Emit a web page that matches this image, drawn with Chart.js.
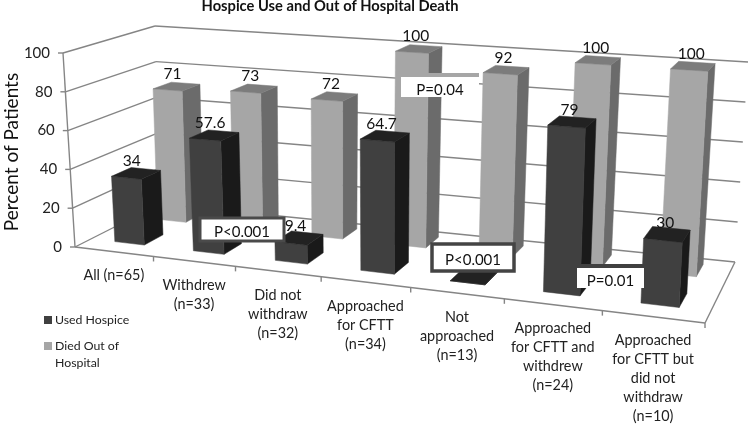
<!DOCTYPE html>
<html>
<head>
<meta charset="utf-8">
<style>html,body{margin:0;padding:0;background:#fff}canvas{display:block}</style>
<script src="https://cdn.jsdelivr.net/npm/chart.js@4/dist/chart.umd.js"></script>
</head>
<body>
<canvas id="c" width="750" height="425" style="width:750px;height:425px"></canvas>
<script>
const CATEGORIES = [
  ['All (n=65)'],
  ['Withdrew', '(n=33)'],
  ['Did not', 'withdraw', '(n=32)'],
  ['Approached', 'for CFTT', '(n=34)'],
  ['Not', 'approached', '(n=13)'],
  ['Approached', 'for CFTT and', 'withdrew', '(n=24)'],
  ['Approached', 'for CFTT but', 'did not', 'withdraw', '(n=10)'],
];
const USED_HOSPICE = [34, 57.6, 9.4, 64.7, 0, 79, 30];
const DIED_OUT = [71, 73, 72, 100, 92, 100, 100];
const Y_TICKS = [0, 20, 40, 60, 80, 100];
const NOTES = ['P<0.001', 'P=0.04', 'P<0.001', 'P=0.01'];

const FONT = 'Lato, sans-serif';

// corners of the box in screen space: front-left, front-right, back-right, back-left
const FLOOR = [[75, 247], [705, 323], [735, 262], [160, 204]];
const CEIL = [[63, 53], [716, 100.5], [748, 62], [155, 26]];

function homography(q) {
  const [[x0, y0], [x1, y1], [x2, y2], [x3, y3]] = q;
  const sx = x0 - x1 + x2 - x3, sy = y0 - y1 + y2 - y3;
  const dx1 = x1 - x2, dx2 = x3 - x2, dy1 = y1 - y2, dy2 = y3 - y2;
  const den = dx1 * dy2 - dx2 * dy1;
  const g = (sx * dy2 - dx2 * sy) / den, h = (dx1 * sy - sx * dy1) / den;
  return (u, w) => {
    const d = g * u + h * w + 1;
    return [
      ((x1 - x0 + g * x1) * u + (x3 - x0 + h * x3) * w + x0) / d,
      ((y1 - y0 + g * y1) * u + (y3 - y0 + h * y3) * w + y0) / d,
    ];
  };
}
const floorH = homography(FLOOR), ceilH = homography(CEIL);

// u along the categories, v up the value axis, w into the depth (all 0..1)
function project(u, v, w) {
  const uu = u + 0.06 * u * (1 - u);      // ticks are a bit less foreshortened than the corners say
  const a = floorH(uu, w), b = ceilH(uu, w);
  return [a[0] + (b[0] - a[0]) * v, a[1] + (b[1] - a[1]) * v];
}

function poly(ctx, pts, fill) {
  ctx.beginPath();
  pts.forEach((p, i) => (i ? ctx.lineTo(p[0], p[1]) : ctx.moveTo(p[0], p[1])));
  ctx.closePath();
  ctx.fillStyle = fill;
  ctx.fill();
  ctx.strokeStyle = fill;
  ctx.lineWidth = 0.5;
  ctx.stroke();
}
function line(ctx, a, b) {
  ctx.beginPath();
  ctx.moveTo(a[0], a[1]);
  ctx.lineTo(b[0], b[1]);
  ctx.stroke();
}
const toV = (chart, val) => {
  const { chartArea: A, scales } = chart;
  return (A.bottom - scales.y.getPixelForValue(val)) / A.height;
};
const toU = (chart, px) => (px - chart.chartArea.left) / chart.chartArea.width;

function noteBox(ctx, text, x, y, w, h, border, lw, topOnly) {
  ctx.fillStyle = '#fff';
  ctx.fillRect(x, y, w, h);
  if (topOnly) {
    ctx.fillStyle = border;
    ctx.fillRect(x, y - lw, w, lw);
  } else {
    ctx.strokeStyle = border;
    ctx.lineWidth = lw;
    ctx.strokeRect(x, y, w, h);
  }
  ctx.fillStyle = '#111';
  ctx.font = '15px ' + FONT;
  ctx.textAlign = 'center';
  ctx.textBaseline = 'middle';
  ctx.fillText(text, x + w / 2, y + h / 2 + 3);
}

const box3d = {
  id: 'box3d',
  beforeDatasetsDraw(chart) {
    const { ctx } = chart;
    ctx.save();
    ctx.strokeStyle = '#858585';
    ctx.lineWidth = 1.4;
    // walls
    Y_TICKS.forEach((t) => {
      const v = toV(chart, t);
      line(ctx, project(0, v, 0), project(0, v, 1));
      line(ctx, project(0, v, 1), project(1, v, 1));
      const p = project(0, v, 0);
      line(ctx, p, [p[0] - 5, p[1]]);
    });
    // floor and axes
    line(ctx, project(0, 0, 0), project(0, 1, 0));
    line(ctx, project(0, 0, 0), project(1, 0, 0));
    line(ctx, project(1, 0, 0), project(1, 0, 1));
    for (let i = 1; i <= CATEGORIES.length; i++) {
      const p = project(i / CATEGORIES.length, 0, 0);
      line(ctx, p, [p[0], p[1] + 5]);
    }
    // y tick labels
    ctx.fillStyle = '#222';
    ctx.font = '15px ' + FONT;
    ctx.textAlign = 'right';
    ctx.textBaseline = 'middle';
    Y_TICKS.forEach((t) => {
      const p = project(0, toV(chart, t), 0);
      ctx.fillText(String(t), p[0] - 13, p[1]);
    });
    // category labels
    ctx.textAlign = 'center';
    ctx.font = '14.4px ' + FONT;
    CATEGORIES.forEach((lines, i) => {
      const p = project(toU(chart, chart.scales.x.getPixelForValue(i)), 0, 0);
      lines.forEach((s, k) => ctx.fillText(s, p[0], p[1] + 24 + k * 19));
    });
    ctx.restore();
  },
  // bars come off the scales flat and get pushed through project() here
  beforeDatasetDraw(chart, args) {
    const { ctx } = chart;
    const ds = chart.data.datasets[args.index];
    const w1 = ds.depth - 0.11, w2 = ds.depth + 0.11;
    ctx.save();
    args.meta.data.forEach((el) => {
      const { x, y, width } = el.getProps(['x', 'y', 'width'], true);
      const u1 = toU(chart, x - width / 2), u2 = toU(chart, x + width / 2);
      const v = toV(chart, chart.scales.y.getValueForPixel(y));
      poly(ctx, [project(u2, 0, w1), project(u2, 0, w2), project(u2, v, w2), project(u2, v, w1)], ds.sideColor);
      poly(ctx, [project(u1, 0, w1), project(u2, 0, w1), project(u2, v, w1), project(u1, v, w1)], ds.backgroundColor);
      poly(ctx, [project(u1, v, w1), project(u2, v, w1), project(u2, v, w2), project(u1, v, w2)], ds.topColor);
    });
    ctx.restore();
    return false;
  },
  afterDatasetsDraw(chart) {
    const { ctx } = chart;
    ctx.save();
    // value labels
    ctx.fillStyle = '#111';
    ctx.font = '15.5px ' + FONT;
    ctx.textAlign = 'center';
    ctx.textBaseline = 'middle';
    chart.data.datasets.forEach((ds, d) => {
      chart.getDatasetMeta(d).data.forEach((el, i) => {
        const u = toU(chart, el.x);
        const p = project(u, toV(chart, ds.data[i]), ds.depth - 0.05);
        ctx.fillText(String(ds.data[i]), p[0], p[1] - 14);
      });
    });
    // p value boxes
    noteBox(ctx, NOTES[0], 200, 218, 84, 23, '#4a4a4a', 3);
    noteBox(ctx, NOTES[1], 401, 77, 78, 20, '#a6a6a6', 4, true);
    noteBox(ctx, NOTES[2], 432, 244, 82, 27, '#444', 3.5);
    noteBox(ctx, NOTES[3], 577, 268, 67, 20, '#404040', 4, true);
    // title
    ctx.fillStyle = '#111';
    ctx.font = 'bold 14.7px ' + FONT;
    ctx.fillText('Hospice Use and Out of Hospital Death', 330, 6);
    // y axis title
    ctx.save();
    ctx.translate(12, 152);
    ctx.rotate(-Math.PI / 2);
    ctx.font = '19px ' + FONT;
    ctx.fillText('Percent of Patients', 0, 0);
    ctx.restore();
    // legend
    ctx.textAlign = 'left';
    ctx.font = '12.3px ' + FONT;
    ctx.fillStyle = '#404040';
    ctx.fillRect(44, 316, 8, 8);
    ctx.fillStyle = '#a6a6a6';
    ctx.fillRect(44, 342, 8, 8);
    ctx.fillStyle = '#222';
    ctx.fillText(chart.data.datasets[0].label, 55, 320);
    ctx.fillText('Died Out of', 55, 346);
    ctx.fillText('Hospital', 55, 363);
    ctx.restore();
  },
};

new Chart(document.getElementById('c'), {
  type: 'bar',
  data: {
    labels: CATEGORIES,
    datasets: [
      { label: 'Used Hospice', data: USED_HOSPICE, backgroundColor: '#404040', sideColor: '#1a1a1a', topColor: '#222222', depth: 0.285 },
      { label: 'Died Out of Hospital', data: DIED_OUT, backgroundColor: '#a6a6a6', sideColor: '#6b6b6b', topColor: '#7c7c7c', depth: 0.79 },
    ],
  },
  options: {
    responsive: false,
    animation: false,
    grouped: false,
    categoryPercentage: 1,
    barPercentage: 0.38,
    layout: { padding: 0 },
    plugins: { legend: { display: false }, title: { display: false }, tooltip: { enabled: false } },
    scales: {
      x: { display: false },
      y: { display: false, min: 0, max: 100 },
    },
  },
  plugins: [box3d],
});
</script>
</body>
</html>
